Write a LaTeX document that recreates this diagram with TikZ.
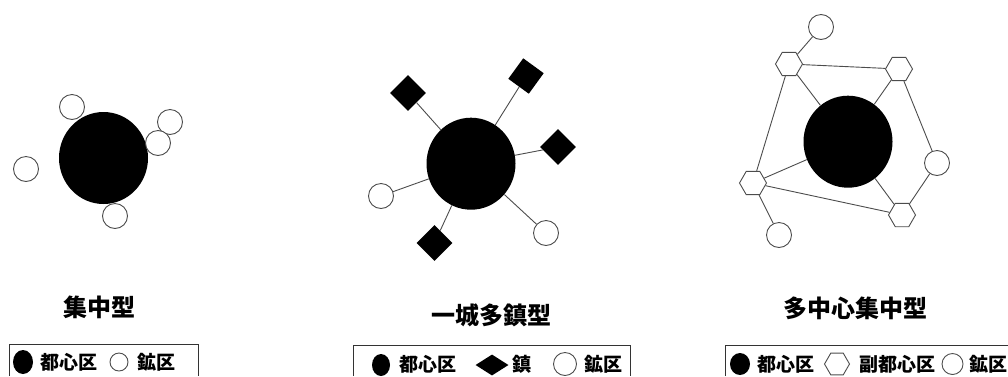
\documentclass[tikz,border=0pt]{standalone}
\usepackage{fontspec}
\newfontfamily\cjk{Noto Sans CJK JP}
\usetikzlibrary{shapes.geometric}

\begin{document}
\begin{tikzpicture}[x=1pt,y=-1pt,
  toshin/.style={ellipse,fill=black,minimum width=89pt,minimum height=92pt,inner sep=0pt},
  kouku/.style={circle,draw=black!70,line width=0.9pt,fill=white,minimum size=25pt,inner sep=0pt},
  chin/.style={diamond,fill=black,minimum size=36pt,inner sep=0pt},
  fuku/.style={regular polygon,regular polygon sides=6,draw=black!70,line width=0.9pt,fill=white,minimum size=27pt,inner sep=0pt},
  link/.style={draw=black!70,line width=0.9pt},
  title/.style={font=\cjk\bfseries\fontsize{24}{28}\selectfont},
  legtext/.style={font=\cjk\bfseries\fontsize{19}{22}\selectfont,inner sep=0pt},
  legbox/.style={draw=black!80,line width=0.9pt}]

\useasboundingbox (0,0) rectangle (1008,376);

\node[toshin] (a) at (103.5,158) {};
\node[kouku] (a1) at (72,107) {};
\node[kouku] (a2) at (170,122) {};
\node[kouku] (a3) at (158,143) {};
\node[kouku] (a4) at (26,169) {};
\node[kouku] (a5) at (115,216) {};

\node[toshin] (b) at (471,163.7) {};
\node[chin] (b1) at (408,93) {};
\node[chin,rotate=9] (b2) at (526,76) {};
\node[chin] (b3) at (558,147) {};
\node[chin] (b4) at (434.5,243) {};
\node[kouku] (b5) at (381,196) {};
\node[kouku] (b6) at (546,233) {};
\draw[link] (b) -- (b1);
\draw[link] (b) -- (b2);
\draw[link] (b) -- (b3);
\draw[link] (b) -- (b4);
\draw[link] (b) -- (b5);
\draw[link] (b) -- (b6);

\node[toshin] (c) at (848,141.7) {};
\node[fuku] (c1) at (789,64) {};
\node[fuku] (c2) at (899,69) {};
\node[fuku] (c3) at (753,183) {};
\node[fuku] (c4) at (902,215) {};
\node[kouku] (c5) at (821,27) {};
\node[kouku] (c6) at (937,163) {};
\node[kouku] (c7) at (779,235) {};
\draw[link] (c1) -- (c5);
\draw[link] (c1) -- (c2);
\draw[link] (c1) -- (c);
\draw[link] (c1) -- (c3);
\draw[link] (c2) -- (c);
\draw[link] (c2) -- (c6);
\draw[link] (c6) -- (c4);
\draw[link] (c4) -- (c);
\draw[link] (c4) -- (c3);
\draw[link] (c3) -- (c);
\draw[link] (c3) -- (c7);

\node[title] (ta) at (99,307.5) {集中型};
\node[title] (tb) at (491,315) {一城多鎮型};
\node[title] (tc) at (855,308) {多中心集中型};

\draw[legbox] (9,376) |- (198,344) -- (198,376);
\node[toshin,minimum width=20pt,minimum height=24pt] (la1) at (23,362) {};
\node[legtext] (la2) at (68.5,362) {都心区};
\node[kouku,minimum size=18pt] (la3) at (119,362) {};
\node[legtext] (la4) at (156,362) {鉱区};

\draw[legbox] (353,376) |- (630,345) -- (630,376);
\node[toshin,minimum width=18pt,minimum height=22pt] (lb1) at (381,365) {};
\node[legtext] (lb2) at (427.5,364) {都心区};
\node[chin,minimum width=33pt,minimum height=21pt] (lb3) at (492,365) {};
\node[legtext] (lb4) at (521.5,364) {鎮};
\node[kouku,minimum size=23pt] (lb5) at (565,364) {};
\node[legtext] (lb6) at (603,364) {鉱区};

\draw[legbox] (725,376) |- (1010,345);
\node[toshin,minimum width=20pt,minimum height=22pt] (lc1) at (740,364) {};
\node[legtext] (lc2) at (786,364) {都心区};
\node[fuku,minimum size=25pt] (lc3) at (837,364) {};
\node[legtext] (lc4) at (897.5,364) {副都心区};
\node[kouku,minimum size=21pt] (lc5) at (952.5,364) {};
\node[legtext] (lc6) at (988,364) {鉱区};

\end{tikzpicture}
\end{document}
